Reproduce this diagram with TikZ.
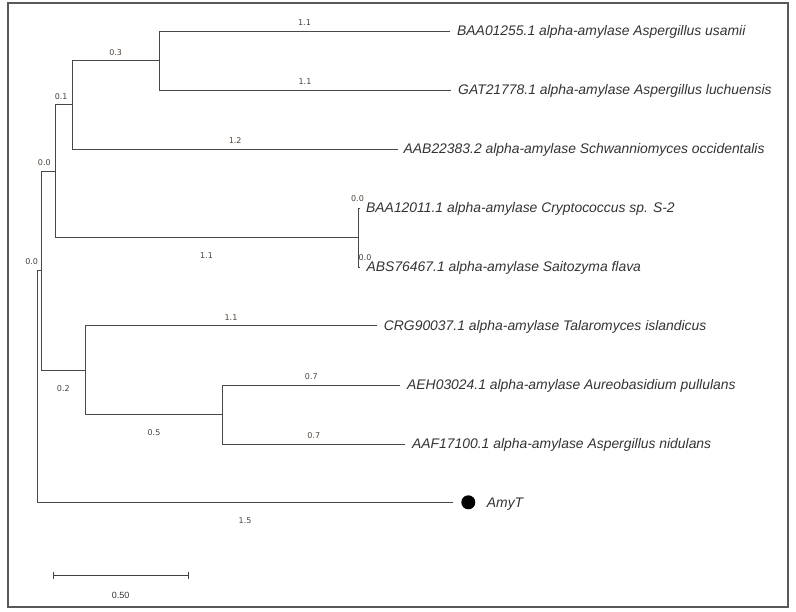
\documentclass[tikz,border=0pt]{standalone}
\usepackage{fontspec}
\setmainfont{Liberation Sans}
\newfontfamily\numfont{DejaVu Sans}
\definecolor{linegray}{RGB}{72,72,72}
\definecolor{numgray}{RGB}{78,66,56}
\begin{document}
\begin{tikzpicture}[x=1pt,y=-1pt,
  branch/.style={draw=linegray, line width=0.9pt},
  taxon/.style={anchor=west, inner xsep=7pt, inner ysep=0pt, text height=10pt,
    text depth=0pt, text=black!80, font=\fontsize{13.9}{16}\selectfont\itshape},
  blen/.style={inner sep=0pt, text=numgray, font=\numfont\fontsize{8}{9}\selectfont},
  blup/.style={blen, anchor=south, yshift=4.7pt},
  bldown/.style={blen, anchor=north, yshift=-15pt}]
  \useasboundingbox (0,0) rectangle (796,612);
  \draw [draw=black!65, line width=1.3pt] (8,3) rectangle (788,607);

  % internal nodes
  \coordinate (root) at (37,386);
  \coordinate (nA) at (41.3,270.5);
  \coordinate (nB) at (55,171.2);
  \coordinate (nC) at (72.3,104.8);
  \coordinate (nD) at (159,60.5);
  \coordinate (nE) at (358,237.5);
  \coordinate (nF) at (85.3,370);
  \coordinate (nG) at (222.7,414.5);

  % leaves
  \node[taxon] (usamii) at (450,31) {BAA01255.1 alpha-amylase Aspergillus usamii};
  \node[taxon] (luchu) at (451,90) {GAT21778.1 alpha-amylase Aspergillus luchuensis};
  \node[taxon, inner xsep=5.5pt] (schwann) at (398,149) {AAB22383.2 alpha-amylase Schwanniomyces occidentalis};
  \node[taxon, inner xsep=6pt] (crypto) at (360,208) {BAA12011.1 alpha-amylase Cryptococcus sp. S-2};
  \node[taxon, inner xsep=6.5pt] (saito) at (360,267) {ABS76467.1 alpha-amylase Saitozyma flava};
  \node[taxon] (talaro) at (376.7,325.7) {CRG90037.1 alpha-amylase Talaromyces islandicus};
  \node[taxon] (aureo) at (400,385) {AEH03024.1 alpha-amylase Aureobasidium pullulans};
  \node[taxon] (nidul) at (405,444) {AAF17100.1 alpha-amylase Aspergillus nidulans};
  \node[circle, fill=black, minimum size=14pt, inner sep=0pt] (amydot) at (468.3,502.3) {};
  \node[taxon, inner xsep=0pt] (amyT) at (486.7,502.3) {AmyT};

  % branches
  \draw[branch] (nD) |- (usamii) node[pos=0.75, blup] {1.1};
  \draw[branch] (nD) |- (luchu) node[pos=0.75, blup] {1.1};
  \draw[branch] (nC) |- (nD) node[pos=0.75, blup] {0.3};
  \draw[branch] (nC) |- (schwann) node[pos=0.75, blup] {1.2};
  \draw[branch] (nB) |- (nC) node[pos=0.75, blup, xshift=-2.5pt] {0.1};
  \draw[branch] (nE) |- (crypto);
  \draw[branch] (nE) |- (saito);
  \draw[branch] (nB) |- (nE) node[pos=0.75, bldown] {1.1};
  \draw[branch] (nA) |- (nB);
  \draw[branch] (nF) |- (talaro) node[pos=0.75, blup] {1.1};
  \draw[branch] (nG) |- (aureo) node[pos=0.75, blup] {0.7};
  \draw[branch] (nG) |- (nidul) node[pos=0.75, blup] {0.7};
  \draw[branch] (nF) |- (nG) node[pos=0.75, bldown] {0.5};
  \draw[branch] (nA) |- (nF) node[pos=0.75, bldown] {0.2};
  \draw[branch] (root) |- (nA);
  \draw[branch, shorten >=8.6pt] (root) |- (amydot) node[pos=0.75, bldown, xshift=-4pt] {1.5};

  % short branch lengths
  \node[blen] (lenA) at (44.3,162.7) {0.0};
  \node[blen] (lenRoot) at (31.7,261.7) {0.0};
  \node[blen] (lenCrypto) at (357.5,199) {0.0};
  \node[blen] (lenSaito) at (365,257.3) {0.0};

  % scale bar
  \coordinate (sbL) at (53.3,575);
  \coordinate (sbR) at (188.7,575);
  \draw[draw=black!75, line width=0.9pt] (sbL) -- (sbR);
  \draw[draw=black!75, line width=0.9pt] ([yshift=3.5pt]sbL) -- ([yshift=-3.5pt]sbL);
  \draw[draw=black!75, line width=0.9pt] ([yshift=3.5pt]sbR) -- ([yshift=-3.5pt]sbR);
  \node[inner sep=0pt, text=black!80, font=\fontsize{9}{10}\selectfont] (sbLabel) at (120.7,595) {0.50};
\end{tikzpicture}
\end{document}
